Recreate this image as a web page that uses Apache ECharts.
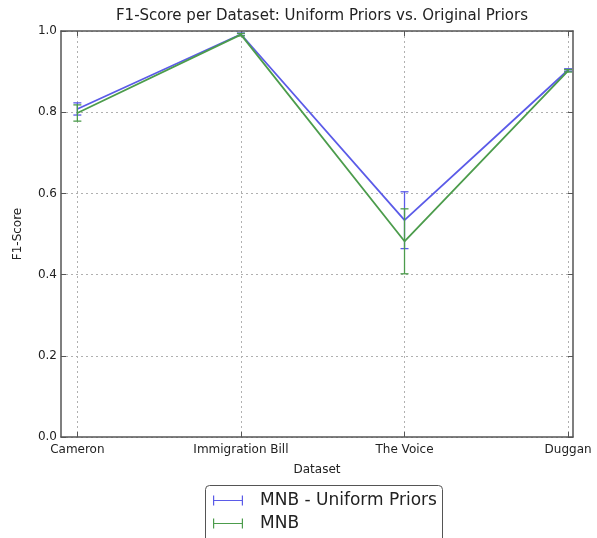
<!DOCTYPE html>
<html>
<head>
<meta charset="utf-8">
<script src="https://cdn.jsdelivr.net/npm/echarts@6/dist/echarts.min.js"></script>
<style>
  html, body { margin: 0; padding: 0; background: #fff; }
  #chart { width: 597px; height: 538px; }
</style>
</head>
<body>
<div id="chart"></div>
<script>
// Datasets along the x axis (placed at x = 0, 1, 2, 3)
const datasets = ['Cameron', 'Immigration Bill', 'The Voice', 'Duggan'];
const yTicks = [0, 0.2, 0.4, 0.6, 0.8, 1.0];

// Mean F1 per dataset and its spread
const uniformMean = [0.808, 0.992, 0.534, 0.904];
const uniformErr  = [0.015, 0.003, 0.070, 0.003];
const mnbMean     = [0.798, 0.991, 0.482, 0.902];
const mnbErr      = [0.020, 0.003, 0.080, 0.003];

const seriesNames = ['MNB - Uniform Priors', 'MNB'];
const colors = ['#5b5be8', '#4c9c4c'];

const font = 'DejaVu Sans';
const xPos = datasets.map((_, i) => i);

function lineData(means) {
  return means.map((v, i) => [xPos[i], v]);
}
function errData(means, errs) {
  return means.map((v, i) => [xPos[i], v, errs[i]]);
}

function errorBars(color) {
  return function (params, api) {
    const x = api.value(0), y = api.value(1), e = api.value(2);
    const top = api.coord([x, y + e]);
    const bot = api.coord([x, y - e]);
    const cap = 4;
    const style = { stroke: color, lineWidth: 1.3 };
    return {
      type: 'group',
      children: [
        { type: 'line', shape: { x1: top[0], y1: top[1], x2: bot[0], y2: bot[1] }, style },
        { type: 'line', shape: { x1: top[0] - cap, y1: top[1], x2: top[0] + cap, y2: top[1] }, style },
        { type: 'line', shape: { x1: bot[0] - cap, y1: bot[1], x2: bot[0] + cap, y2: bot[1] }, style }
      ]
    };
  };
}

// Legend glyph: an error bar lying on its side
const errIcon = 'path://M0,0h1.2v10h-1.2z M1.2,4.4h27.6v1.2h-27.6z M28.8,0h1.2v10h-1.2z';

const chart = echarts.init(document.getElementById('chart'), null, { renderer: 'canvas' });

const gridLine = { show: true, lineStyle: { color: '#b0b0b0', type: [2, 3], width: 1 } };
const frame = { show: true, onZero: false, lineStyle: { color: '#555', width: 1.5 } };
const tickIn = { show: true, inside: true, length: 5, lineStyle: { color: '#555' } };

chart.setOption({
  animation: false,
  backgroundColor: '#fff',
  title: {
    text: 'F1-Score per Dataset: Uniform Priors vs. Original Priors',
    left: 317, top: 4, textAlign: 'center',
    textStyle: { fontFamily: font, fontSize: 15, fontWeight: 'normal', color: '#222' }
  },
  grid: { left: 61, top: 31, width: 512, height: 406 },
  // frame of the legend box, running past the bottom edge of the canvas
  graphic: [{
    type: 'rect', left: 205, top: 485, z: 0,
    shape: { width: 237, height: 70, r: 4 },
    style: { fill: '#fff', stroke: '#555', lineWidth: 1 }
  }],
  xAxis: [
    {
      type: 'value', min: -0.1, max: 3.03, position: 'bottom',
      axisLine: frame,
      axisTick: Object.assign({ customValues: xPos }, tickIn),
      splitLine: gridLine,
      axisLabel: {
        customValues: xPos,
        formatter: v => datasets[Math.round(v)],
        fontFamily: font, fontSize: 12, color: '#222', margin: 7
      },
      name: 'Dataset', nameLocation: 'middle', nameGap: 27,
      nameTextStyle: { fontFamily: font, fontSize: 12, color: '#222' }
    },
    {
      type: 'value', min: -0.1, max: 3.03, position: 'top',
      axisLine: frame,
      axisTick: Object.assign({ customValues: xPos }, tickIn),
      splitLine: { show: false },
      axisLabel: { show: false }
    }
  ],
  yAxis: [
    {
      type: 'value', min: 0, max: 1, interval: 0.2, position: 'left',
      axisLine: frame,
      axisTick: tickIn,
      splitLine: gridLine,
      axisLabel: {
        formatter: v => v.toFixed(1),
        fontFamily: font, fontSize: 12, color: '#222', margin: 4
      },
      name: 'F1-Score', nameLocation: 'middle', nameGap: 37, nameRotate: 90,
      nameTextStyle: { fontFamily: font, fontSize: 12, color: '#222' }
    },
    {
      type: 'value', min: 0, max: 1, interval: 0.2, position: 'right',
      axisLine: frame,
      axisTick: tickIn,
      splitLine: { show: false },
      axisLabel: { show: false }
    }
  ],
  legend: {
    orient: 'vertical',
    left: 205, top: 485,
    padding: [7, 6, 2, 8],
    itemGap: 6,
    itemWidth: 30, itemHeight: 16,
    z: 10,
    data: seriesNames.map((n, i) => ({ name: n, icon: errIcon, itemStyle: { color: colors[i] } })),
    textStyle: { fontFamily: font, fontSize: 17, color: '#222', padding: [0, 0, 0, 12] }
  },
  series: [
    {
      name: seriesNames[0], type: 'line', data: lineData(uniformMean),
      symbol: 'none', lineStyle: { color: colors[0], width: 1.8 }, itemStyle: { color: colors[0] }, z: 3
    },
    {
      name: seriesNames[1], type: 'line', data: lineData(mnbMean),
      symbol: 'none', lineStyle: { color: colors[1], width: 1.8 }, itemStyle: { color: colors[1] }, z: 4
    },
    {
      name: seriesNames[0], type: 'custom', data: errData(uniformMean, uniformErr),
      renderItem: errorBars(colors[0]), encode: { x: 0, y: 1 }, z: 3, itemStyle: { color: colors[0] }
    },
    {
      name: seriesNames[1], type: 'custom', data: errData(mnbMean, mnbErr),
      renderItem: errorBars(colors[1]), encode: { x: 0, y: 1 }, z: 4, itemStyle: { color: colors[1] }
    }
  ]
});
</script>
</body>
</html>
